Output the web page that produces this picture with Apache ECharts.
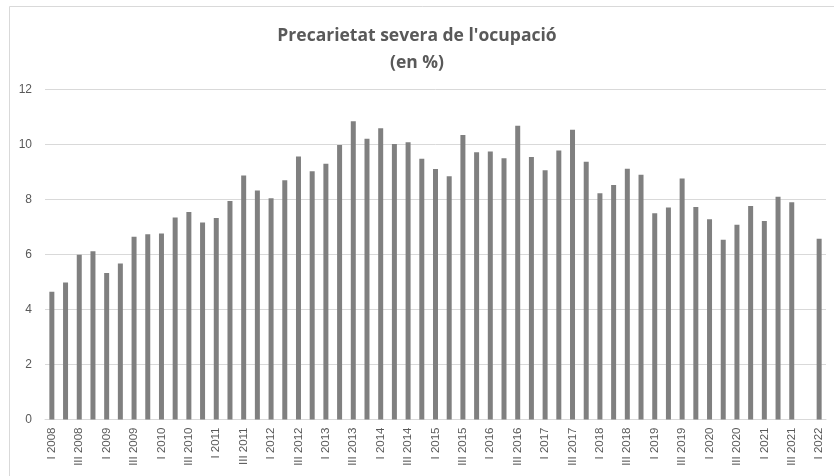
<!DOCTYPE html>
<html>
<head>
<meta charset="utf-8">
<script src="https://cdn.jsdelivr.net/npm/echarts@6/dist/echarts.min.js"></script>
<style>
  html, body { margin: 0; padding: 0; background: #fff; }
  #chart { width: 834px; height: 476px; }
</style>
</head>
<body>
<div id="chart"></div>
<script>
// Quarters from I 2008 to I 2022 (IV 2021 has no value)
const years = [2008, 2009, 2010, 2011, 2012, 2013, 2014, 2015, 2016, 2017, 2018, 2019, 2020, 2021];
const quarterNames = ['I', 'II', 'III', 'IV'];
const categories = [];
years.forEach(y => quarterNames.forEach(q => categories.push(q + ' ' + y)));
categories.push('I 2022');

const values = [
  4.65, 4.98, 5.99, 6.12,   // 2008
  5.33, 5.67, 6.65, 6.74,   // 2009
  6.76, 7.35, 7.55, 7.16,   // 2010
  7.33, 7.95, 8.87, 8.33,   // 2011
  8.05, 8.70, 9.56, 9.03,   // 2012
  9.30, 9.98, 10.85, 10.21, // 2013
  10.59, 10.02, 10.08, 9.48,// 2014
  9.11, 8.85, 10.35, 9.72,  // 2015
  9.75, 9.50, 10.68, 9.55,  // 2016
  9.06, 9.78, 10.54, 9.37,  // 2017
  8.23, 8.53, 9.12, 8.90,   // 2018
  7.50, 7.71, 8.76, 7.73,   // 2019
  7.28, 6.54, 7.08, 7.76,   // 2020
  7.22, 8.10, 7.90, null,   // 2021
  6.57                      // 2022
];

const titleText = "Precarietat severa de l'ocupació\n(en %)";
const yTicks = { min: 0, max: 12, interval: 2 };

const chart = echarts.init(document.getElementById('chart'));
chart.setOption({
  animation: false,
  backgroundColor: '#ffffff',
  title: {
    text: titleText,
    left: 'center',
    top: 18,
    textStyle: {
      fontFamily: 'Open Sans',
      fontWeight: 'bold',
      fontSize: 17.5,
      color: '#595959',
      lineHeight: 27
    }
  },
  graphic: [{
    type: 'rect',
    shape: { x: 9.5, y: 6.5, width: 840, height: 480 },
    style: { fill: 'none', stroke: '#d9d9d9', lineWidth: 1 },
    silent: true
  }],
  grid: { left: 45, right: 8, top: 89.5, bottom: 56.5 },
  xAxis: {
    type: 'category',
    data: categories,
    axisLine: { lineStyle: { color: '#d9d9d9', width: 1 } },
    axisTick: { show: false },
    axisLabel: {
      interval: 1,
      rotate: 90,
      fontFamily: 'Liberation Sans',
      fontSize: 11.5,
      color: '#595959',
      margin: 8
    }
  },
  yAxis: {
    type: 'value',
    min: yTicks.min,
    max: yTicks.max,
    interval: yTicks.interval,
    axisLine: { show: false },
    axisTick: { show: false },
    splitLine: { lineStyle: { color: '#d9d9d9', width: 1 } },
    axisLabel: {
      fontFamily: 'Liberation Sans',
      fontSize: 12,
      color: '#595959',
      margin: 13
    }
  },
  series: [{
    type: 'bar',
    data: values,
    barWidth: 5,
    itemStyle: { color: '#808080' }
  }]
});
</script>
</body>
</html>
